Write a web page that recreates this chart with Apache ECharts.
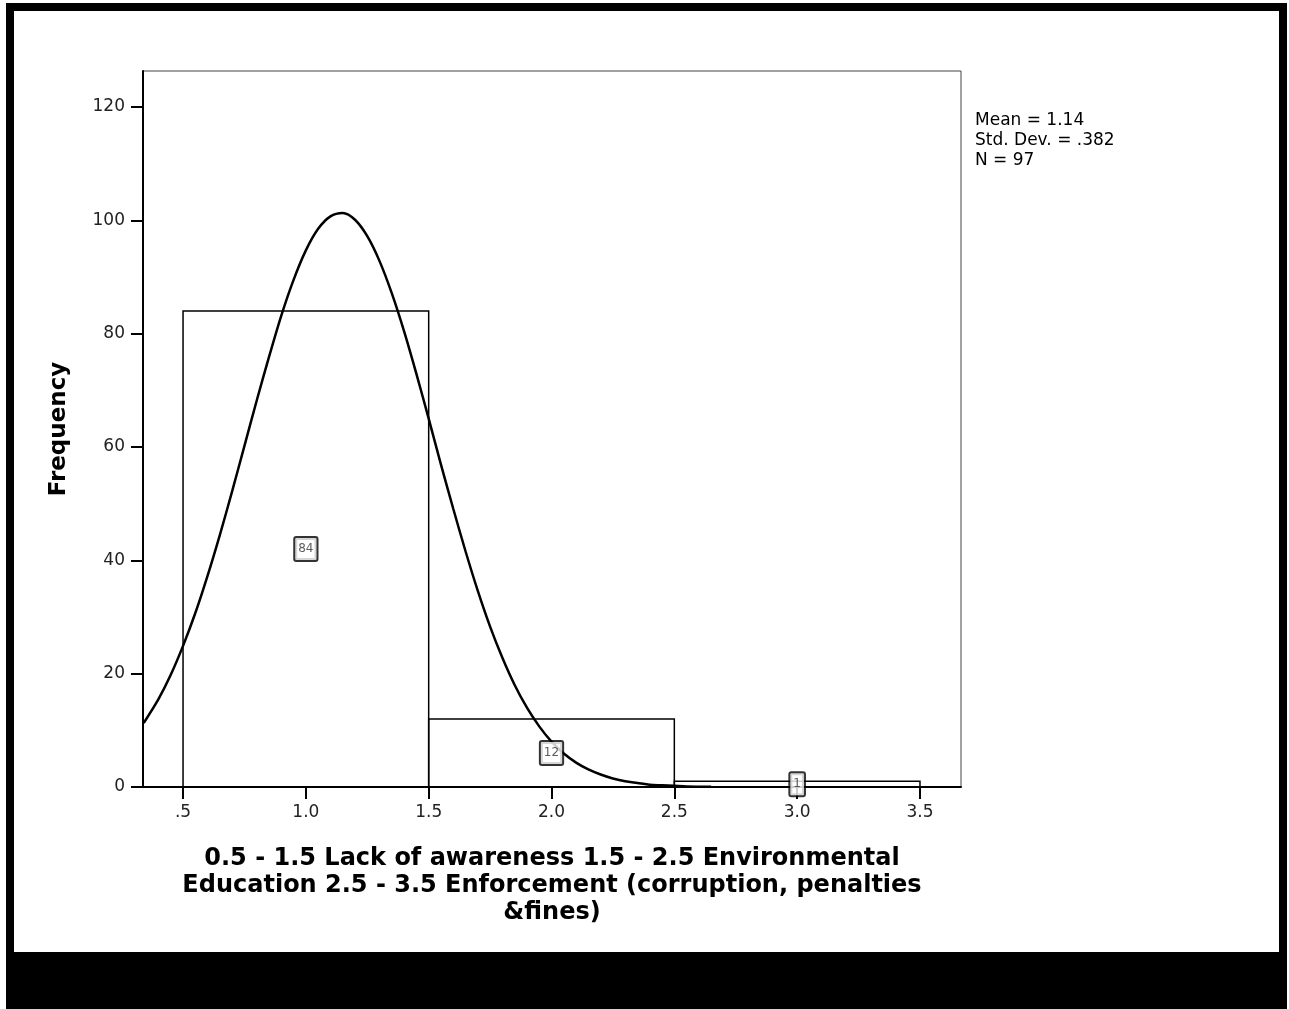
<!DOCTYPE html>
<html>
<head>
<meta charset="utf-8">
<script src="https://cdn.jsdelivr.net/npm/echarts@6/dist/echarts.min.js"></script>
<style>
  html, body { margin: 0; padding: 0; background: #fff; }
  #chart { width: 1289px; height: 1009px; }
</style>
</head>
<body>
<div id="chart"></div>
<script>
// histogram bins: [start, end, frequency]
var binStart = [0.5, 1.5, 2.5];
var binEnd = [1.5, 2.5, 3.5];
var binCount = [84, 12, 1];
var binMid = [1.0, 2.0, 3.0];

// normal curve
var curveX = [0.34, 0.4, 0.45, 0.5, 0.55, 0.6, 0.65, 0.7, 0.75, 0.8, 0.85, 0.9, 0.95, 1.0, 1.05, 1.1, 1.15, 1.2, 1.25, 1.3, 1.35, 1.4, 1.45, 1.5, 1.55, 1.6, 1.65, 1.7, 1.75, 1.8, 1.85, 1.9, 1.95, 2.0, 2.05, 2.1, 2.15, 2.2, 2.25, 2.3, 2.35, 2.4, 2.45, 2.5, 2.55, 2.65];
var curveY = [11.3, 15.5, 19.8, 24.9, 30.7, 37.3, 44.5, 52.2, 60.2, 68.2, 75.9, 83.2, 89.5, 94.7, 98.5, 100.7, 101.3, 100.1, 97.2, 92.8, 87.1, 80.4, 72.9, 65.0, 56.9, 49.1, 41.6, 34.6, 28.3, 22.8, 18.0, 14.0, 10.7, 8.0, 5.9, 4.3, 3.1, 2.2, 1.5, 1.0, 0.7, 0.4, 0.3, 0.2, 0.1, 0.05];

var xTicks = [0.5, 1.0, 1.5, 2.0, 2.5, 3.0, 3.5];
var xTickLabels = ['.5', '1.0', '1.5', '2.0', '2.5', '3.0', '3.5'];
var yTicks = [0, 20, 40, 60, 80, 100, 120];

var statLines = ['Mean = 1.14', 'Std. Dev. = .382', 'N = 97'];
var xTitle = '0.5 - 1.5 Lack of awareness 1.5 - 2.5 Environmental\nEducation 2.5 - 3.5 Enforcement (corruption, penalties\n&fines)';

var chart = echarts.init(document.getElementById('chart'));

var bins = binStart.map(function (s, i) { return [s, binEnd[i], binCount[i]]; });
var curve = curveX.map(function (x, i) { return [x, curveY[i]]; });
var boxes = binMid.map(function (m, i) { return [m, binCount[i] / 2, binCount[i]]; });

var thinFont = 'DejaVu Sans, Liberation Sans, sans-serif';

var option = {
  animation: false,
  backgroundColor: '#fff',
  textStyle: { fontFamily: thinFont },
  grid: {
    left: 143, top: 71, right: 328, bottom: 222,
    show: true, borderColor: '#444', borderWidth: 1, backgroundColor: 'transparent'
  },
  xAxis: {
    type: 'value',
    min: 0.337, max: 3.667,
    splitLine: { show: false },
    axisLine: { lineStyle: { color: '#000', width: 2 } },
    axisTick: { show: true, length: 12, lineStyle: { color: '#000', width: 2 }, customValues: xTicks },
    axisLabel: {
      color: '#222', fontSize: 17, margin: 17, fontFamily: thinFont,
      customValues: xTicks,
      formatter: function (v) {
        var i = xTicks.indexOf(Math.round(v * 10) / 10);
        return i >= 0 ? xTickLabels[i] : '';
      }
    },
    name: xTitle,
    nameLocation: 'middle',
    nameGap: 58,
    nameTextStyle: {
      fontSize: 24, fontWeight: 'bold', color: '#000', lineHeight: 27,
      fontFamily: thinFont, verticalAlign: 'top', align: 'center'
    }
  },
  yAxis: {
    type: 'value',
    min: 0, max: 126.35,
    splitLine: { show: false },
    axisLine: { show: true, lineStyle: { color: '#000', width: 2 } },
    axisTick: { show: true, length: 12, lineStyle: { color: '#000', width: 2 }, customValues: yTicks },
    axisLabel: { color: '#222', fontSize: 17, margin: 18, fontFamily: thinFont, customValues: yTicks },
    name: 'Frequency',
    nameLocation: 'middle',
    nameGap: 72,
    nameTextStyle: { fontSize: 23, fontWeight: 'bold', color: '#000', fontFamily: thinFont }
  },
  series: [
    {
      type: 'custom',
      data: bins,
      encode: { x: [0, 1], y: 2 },
      renderItem: function (params, api) {
        var p0 = api.coord([api.value(0), api.value(2)]);
        var p1 = api.coord([api.value(1), 0]);
        return {
          type: 'rect',
          shape: { x: p0[0], y: p0[1], width: p1[0] - p0[0], height: p1[1] - p0[1] },
          style: { fill: 'none', stroke: '#000', lineWidth: 1.5 }
        };
      },
      z: 2
    },
    {
      type: 'line',
      data: curve,
      smooth: 0.3,
      showSymbol: false,
      clip: true,
      lineStyle: { color: '#000', width: 2.5 },
      z: 3
    },
    {
      type: 'scatter',
      data: boxes,
      symbolSize: 0,
      label: {
        show: true,
        position: 'inside',
        formatter: function (p) { return String(p.value[2]); },
        color: '#333', fontSize: 12,
        backgroundColor: '#fff',
        borderColor: '#000', borderWidth: 2, borderRadius: 1,
        padding: [5, 3, 5, 3]
      },
      z: 4
    }
  ],
  graphic: [
    {
      type: 'text', left: 975, top: 111,
      style: { text: statLines.join('\n'), fontSize: 17, lineHeight: 20, fill: '#000', fontFamily: thinFont }
    },
    { type: 'rect', left: 14, top: 952, shape: { width: 1265, height: 49 }, style: { fill: '#000' } },
    { type: 'rect', left: 6, top: 3, shape: { width: 1281, height: 8 }, style: { fill: '#000' } },
    { type: 'rect', left: 6, top: 1001, shape: { width: 1281, height: 8 }, style: { fill: '#000' } },
    { type: 'rect', left: 6, top: 3, shape: { width: 8, height: 1006 }, style: { fill: '#000' } },
    { type: 'rect', left: 1279, top: 3, shape: { width: 8, height: 1006 }, style: { fill: '#000' } }
  ]
};

chart.setOption(option);
window.addEventListener('resize', function () { chart.resize(); });
</script>
</body>
</html>
